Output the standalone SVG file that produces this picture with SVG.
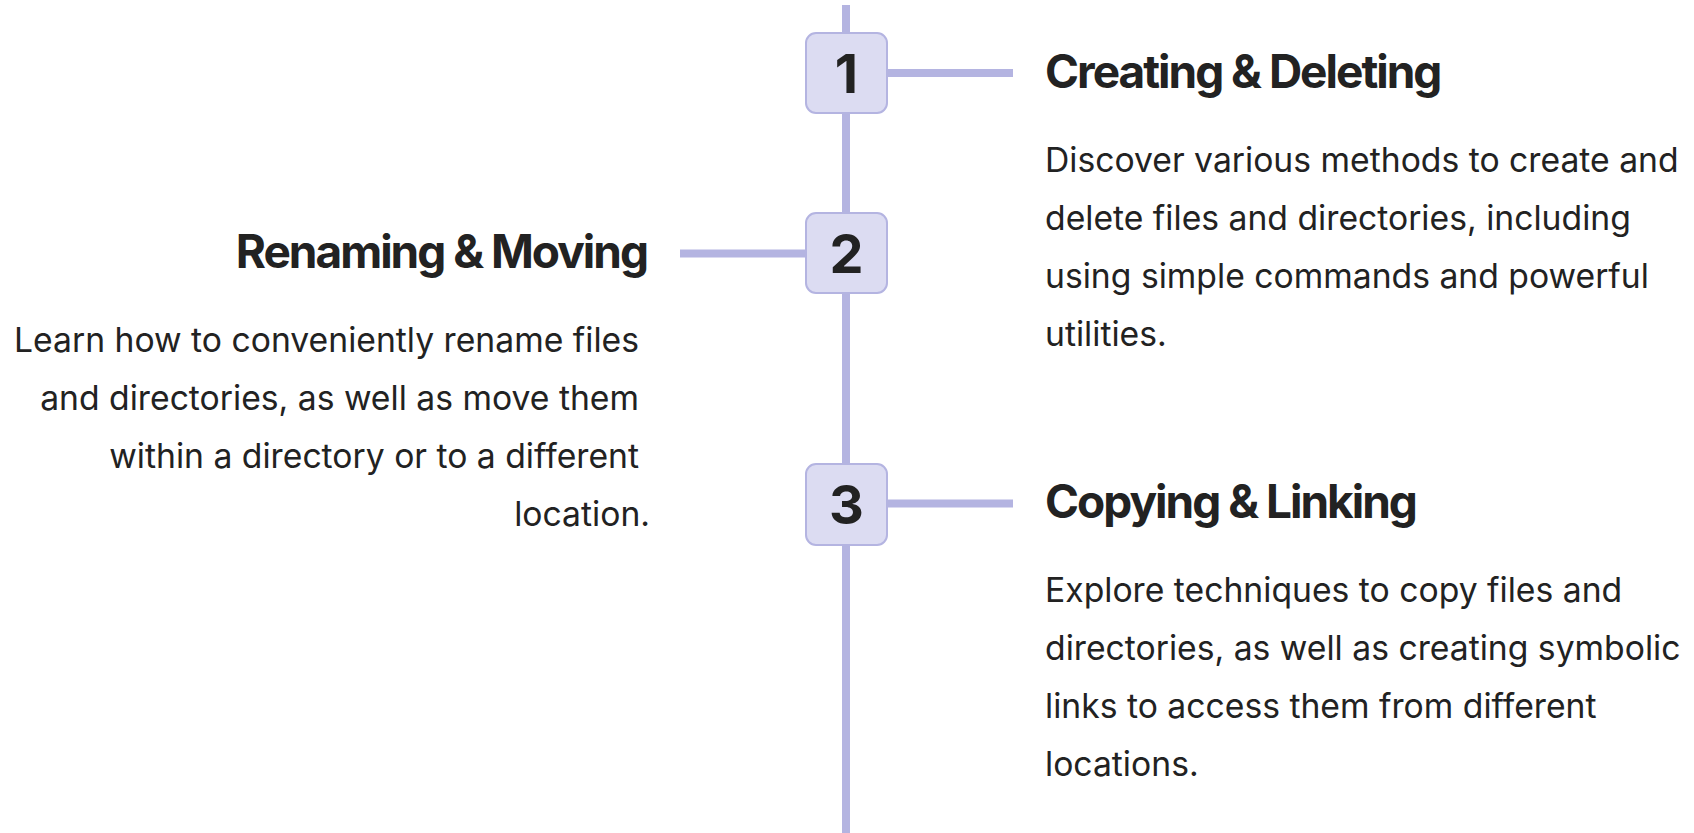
<svg xmlns="http://www.w3.org/2000/svg" width="1694" height="833" viewBox="0 0 1694 833">
<style>
.ln{stroke:#b4b4e1;stroke-width:8;fill:none}
.box{fill:#dcdcf2;stroke:#b4b4e1;stroke-width:2}
.num{font-family:Inter,"Liberation Sans",sans-serif;font-weight:700;font-size:54px;fill:#222;text-anchor:middle}
.ttl{font-family:Inter,"Liberation Sans",sans-serif;font-weight:700;font-size:46px;fill:#222;letter-spacing:-2px}
.dsc{font-family:Inter,"Liberation Sans",sans-serif;font-size:33.7px;fill:#222}
.r{text-anchor:end}
</style>
<rect width="1694" height="833" fill="#fff"/>
<g id="connectors">
<line class="ln" x1="846" y1="5" x2="846" y2="833"/>
<line class="ln" x1="887" y1="73" x2="1013" y2="73" stroke-width="9"/>
<line class="ln" x1="680" y1="253.5" x2="806" y2="253.5" stroke-width="9"/>
<line class="ln" x1="887" y1="503.5" x2="1013" y2="503.5" stroke-width="9"/>
</g>
<g id="node1">
<rect class="box" x="806" y="33" width="81" height="80" rx="10"/>
<text class="num" x="846.5" y="92.5">1</text>
<text class="ttl" x="1045" y="88">Creating &amp; Deleting</text>
<text class="dsc" x="1045" y="171.5">Discover various methods to create and</text>
<text class="dsc" x="1045" y="229.5">delete files and directories, including</text>
<text class="dsc" x="1045" y="287.5">using simple commands and powerful</text>
<text class="dsc" x="1045" y="345.5">utilities.</text>
</g>
<g id="node2">
<rect class="box" x="806" y="213" width="81" height="80" rx="10"/>
<text class="num" x="846.5" y="272.5">2</text>
<text class="ttl r" x="647" y="268">Renaming &amp; Moving</text>
<text class="dsc r" x="639" y="352">Learn how to conveniently rename files</text>
<text class="dsc r" x="639" y="410">and directories, as well as move them</text>
<text class="dsc r" x="639" y="468">within a directory or to a different</text>
<text class="dsc r" x="650" y="526">location.</text>
</g>
<g id="node3">
<rect class="box" x="806" y="464" width="81" height="81" rx="10"/>
<text class="num" x="846.5" y="523.5">3</text>
<text class="ttl" x="1045" y="518">Copying &amp; Linking</text>
<text class="dsc" x="1045" y="602">Explore techniques to copy files and</text>
<text class="dsc" x="1045" y="660">directories, as well as creating symbolic</text>
<text class="dsc" x="1045" y="718">links to access them from different</text>
<text class="dsc" x="1045" y="776">locations.</text>
</g>
</svg>
